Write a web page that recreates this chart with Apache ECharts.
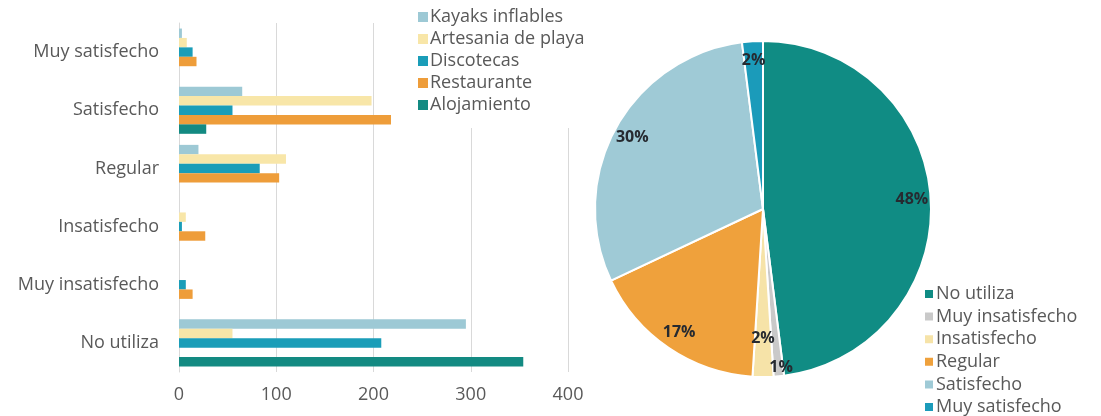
<!DOCTYPE html>
<html>
<head>
<meta charset="utf-8">
<script src="https://cdn.jsdelivr.net/npm/echarts@6/dist/echarts.min.js"></script>
<style>
  html, body { margin: 0; padding: 0; background: #fff; }
  #chart { width: 1101px; height: 416px; }
</style>
</head>
<body>
<div id="chart"></div>
<script>
// categories, bottom to top as the y axis reads them
const levels = ['No utiliza', 'Muy insatisfecho', 'Insatisfecho', 'Regular', 'Satisfecho', 'Muy satisfecho']

// responses per service
const kayaks      = [295, 0, 0, 20, 65, 3]
const artesania   = [55, 0, 7, 110, 198, 8]
const discotecas  = [208, 7, 3, 83, 55, 14]
const restaurante = [0, 14, 27, 103, 218, 18]
const alojamiento = [354, 0, 0, 0, 28, 0]

// share of all answers (%)
const pieNames  = ['No utiliza', 'Muy insatisfecho', 'Insatisfecho', 'Regular', 'Satisfecho', 'Muy satisfecho']
const pieValues = [48, 1, 2, 17, 30, 2]

const xTicks = [0, 100, 200, 300, 400]

const services = [
  { name: 'Kayaks inflables', data: kayaks, color: '#9DC9D5' },
  { name: 'Artesania de playa', data: artesania, color: '#F8E6A8' },
  { name: 'Discotecas', data: discotecas, color: '#1A9DB8' },
  { name: 'Restaurante', data: restaurante, color: '#EE9D3A' },
  { name: 'Alojamiento', data: alojamiento, color: '#138A82' }
]
const pieColors = ['#108C84', '#C9C9C9', '#F6E3A8', '#EFA13C', '#9FCAD6', '#1B9BBA']

const textGrey = '#595959'
const font = 'Open Sans'
const R = 168
const center = [763, 209]

const chart = echarts.init(document.getElementById('chart'))

const barSeries = services.map(s => ({
  type: 'bar',
  name: s.name,
  data: s.data,
  itemStyle: { color: s.color },
  barGap: '0%',
  barCategoryGap: '19%'
}))

chart.setOption({
  animation: false,
  textStyle: { fontFamily: font },
  grid: { left: 179, right: 533, top: 23, bottom: 44 },
  xAxis: {
    type: 'value',
    min: xTicks[0],
    max: xTicks[xTicks.length - 1],
    interval: 100,
    axisLine: { show: false },
    axisTick: { show: false },
    axisLabel: { color: textGrey, fontSize: 18, margin: 14 },
    splitLine: { lineStyle: { color: '#D9D9D9' } }
  },
  yAxis: {
    type: 'category',
    data: levels,
    axisLine: { lineStyle: { color: '#D9D9D9' } },
    axisTick: { show: false },
    axisLabel: { color: textGrey, fontSize: 18, margin: 20 }
  },
  legend: [
    {
      data: services.map(s => s.name),
      orient: 'vertical',
      left: 414,
      top: 6,
      backgroundColor: '#fff',
      padding: [2, 8, 14, 4],
      icon: 'rect',
      itemWidth: 10,
      itemHeight: 10,
      itemGap: 4,
      textStyle: { color: textGrey, fontSize: 18, lineHeight: 18, padding: [0, 0, 0, -3] }
    },
    {
      data: pieNames,
      orient: 'vertical',
      left: 923,
      top: 285,
      padding: 0,
      icon: 'rect',
      itemWidth: 10,
      itemHeight: 10,
      itemGap: 4.6,
      textStyle: { color: textGrey, fontSize: 18, lineHeight: 18, padding: [0, 0, 0, -3] }
    }
  ],
  series: [
    ...barSeries,
    {
      type: 'pie',
      name: 'share',
      center: center,
      radius: [0, R],
      startAngle: 90,
      clockwise: true,
      label: { show: false },
      labelLine: { show: false },
      itemStyle: { borderColor: '#fff', borderWidth: 2 },
      data: pieNames.map((n, i) => ({ name: n, value: pieValues[i], itemStyle: { color: pieColors[i] } }))
    },
    {
      // transparent ring that only carries the labels near the rim
      type: 'pie',
      name: 'labels',
      center: center,
      radius: [R * 0.74, R],
      startAngle: 90,
      clockwise: true,
      silent: true,
      itemStyle: { color: 'rgba(0,0,0,0)', borderWidth: 0 },
      labelLine: { show: false },
      label: {
        show: true,
        position: 'inside',
        formatter: '{c}%',
        color: '#262A30',
        fontWeight: 'bold',
        fontSize: 16,
        fontFamily: font
      },
      labelLayout: function (p) {
        if (p.dataIndex === 2) return { dy: -20 }
        if (p.dataIndex === 1) return { dx: 4, dy: 10 }
      },
      data: pieNames.map((n, i) => ({ name: n, value: pieValues[i] }))
    }
  ]
})
</script>
</body>
</html>
